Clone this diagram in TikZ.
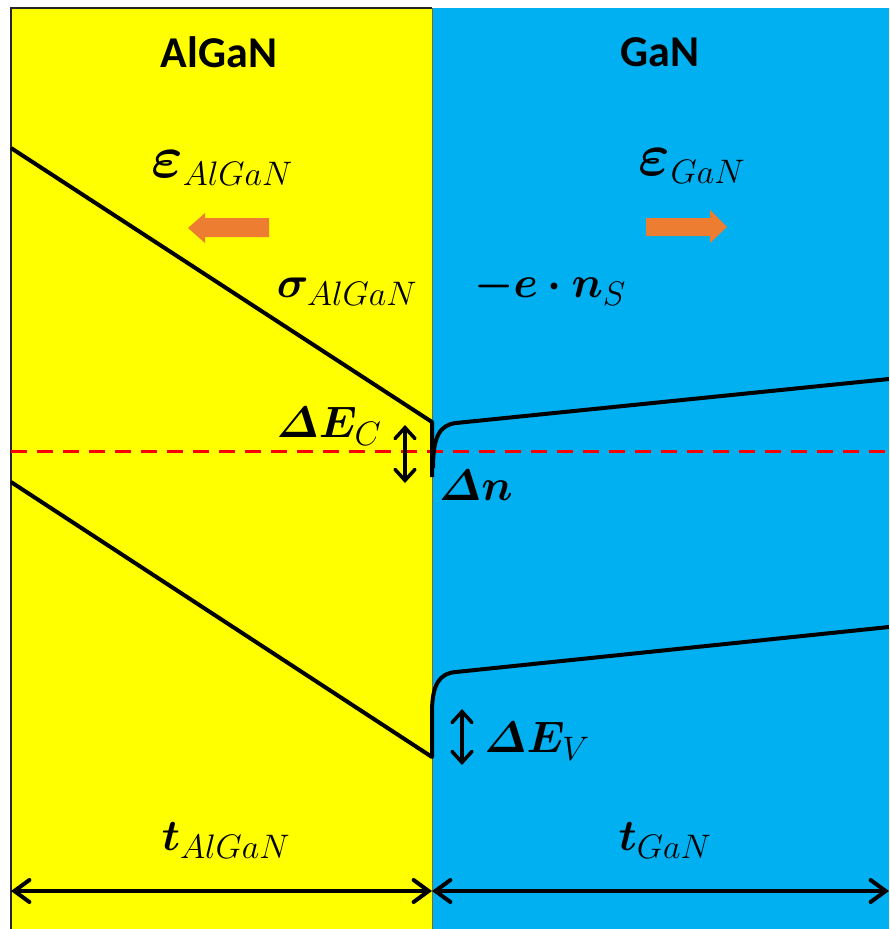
\RequirePackage{fix-cm}
\documentclass[tikz,border=0pt]{standalone}
\usepackage{amsmath}
\usepackage{bm}
\usepackage{fontspec}
\newfontfamily\titlefont{Carlito}
\usetikzlibrary{arrows.meta}
\DeclareMathSizes{44}{44}{34}{26}
\definecolor{ayel}{RGB}{255,255,0}
\definecolor{gblue}{RGB}{0,176,240}
\definecolor{aorange}{RGB}{237,125,49}
\definecolor{dred}{RGB}{255,0,0}
\definecolor{edgeline}{RGB}{110,110,60}
\newcommand{\bigeps}{\mbox{\fontsize{60}{60}\selectfont$\bm{\varepsilon}$}}
\begin{document}
\begin{tikzpicture}[x=1pt,y=-1pt,
  band/.style={line width=4pt, line join=round},
  lbl/.style={font=\fontsize{44}{50}\selectfont, inner sep=0pt, anchor=base},
  ttl/.style={font=\titlefont\bfseries\fontsize{44}{50}\selectfont, inner sep=0pt, anchor=base},
  smallarrow/.style={line width=3.5pt, {Straight Barb[length=11pt,width=20pt,line cap=round]}-{Straight Barb[length=11pt,width=20pt,line cap=round]}},
  dimarrow/.style={line width=4pt, {Straight Barb[length=15pt,width=22pt,line cap=round]}-{Straight Barb[length=15pt,width=22pt,line cap=round]}},
  field/.style={fill=aorange}
]
\useasboundingbox (0,0) rectangle (889,929);
% regions
\fill[ayel] (11,8) rectangle (432,929);
\fill[gblue] (432,8) rectangle (889,929);
\draw[line width=1.5pt, black!85] (11,929) -- (11,8) -- (432,8);
\draw[line width=1pt, edgeline] (432,8) -- (432,929);
% Fermi level
\draw[dred, line width=3pt, dash pattern=on 16pt off 10pt] (11,451) -- (889,451);
% conduction band
\draw[band] (11,148) -- (432,422) -- (432,477);
\draw[band] (433,468) .. controls (433,436) and (440,425) .. (456,423) -- (889,379);
% valence band
\draw[band] (11,482) -- (432,757) -- (432,712) .. controls (432,684) and (440,673) .. (456,672) -- (889,627);
% field arrows
\fill[field] (269,218) -- (205,218) -- (205,213) -- (188,228) -- (205,243) -- (205,237) -- (269,237) -- cycle;
\fill[field] (646,218) -- (710,218) -- (710,210) -- (727,227) -- (710,243) -- (710,236) -- (646,236) -- cycle;
% titles
\node[ttl] (tal) at (219,67) {AlGaN};
\node[ttl] (tga) at (660,66) {GaN};
% labels
\node[lbl] (eal) at (222,177) {$\bigeps_{AlGaN}$};
\node[lbl] (ega) at (692,175) {$\bigeps_{GaN}$};
\node[lbl] (sig) at (347,297) {$\bm{\sigma}_{AlGaN}$};
\node[lbl] (ens) at (550,297) {$\bm{-e\cdot n}_{S}$};
\node[lbl] (dec) at (329,437) {$\bm{\varDelta E}_{C}$};
\node[lbl] (dn) at (476,500) {$\bm{\varDelta n}$};
\node[lbl] (dev) at (537,752) {$\bm{\varDelta E}_{V}$};
\node[lbl] (tA) at (226,850) {$\bm{t}_{AlGaN}$};
\node[lbl] (tG) at (665,850) {$\bm{t}_{GaN}$};
% small double arrows
\coordinate (c1) at (405,425);
\coordinate (c2) at (405,483);
\coordinate (v1) at (462,709);
\coordinate (v2) at (462,765);
\draw[smallarrow] (c1) -- (c2);
\draw[smallarrow] (v1) -- (v2);
% thickness arrows
\coordinate (b0) at (11,891);
\coordinate (b1) at (432,891);
\coordinate (b2) at (889,891);
\draw[dimarrow] (b0) -- (b1);
\draw[dimarrow] (b1) -- (b2);
\end{tikzpicture}
\end{document}
